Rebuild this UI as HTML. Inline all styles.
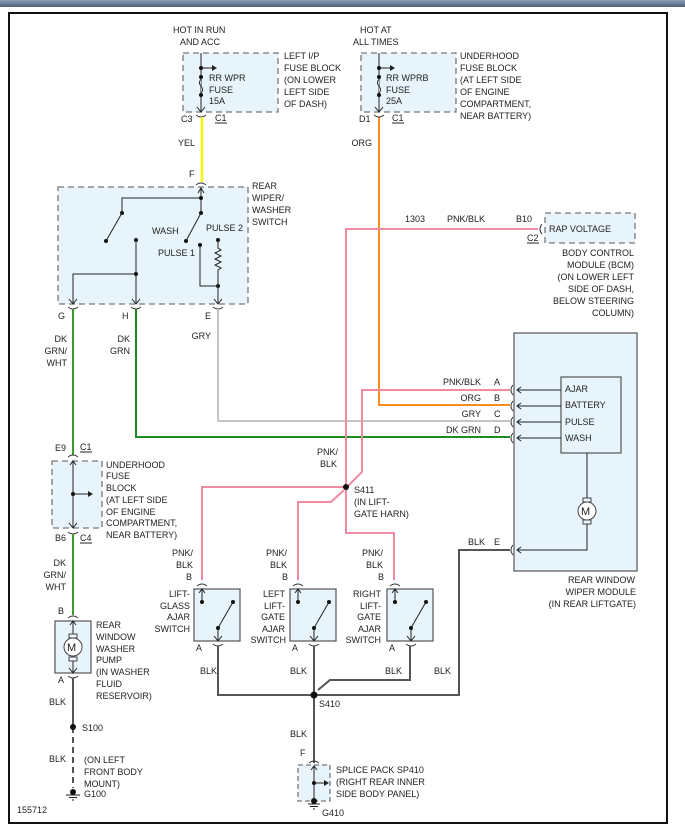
<!DOCTYPE html>
<html><head><meta charset="utf-8"><style>
body{margin:0;background:#fff;width:685px;height:837px;overflow:hidden}
svg{display:block}
text{font-family:"Liberation Sans",sans-serif;font-size:9px;fill:#222}
.bx{fill:#e8f4fb;stroke:#777;stroke-width:1.3;stroke-dasharray:6,4}
.sb{fill:#e8f4fb;stroke:#555;stroke-width:1.2}
.k{stroke:#222;stroke-width:1;fill:none}
.c{stroke:#333;stroke-width:1;fill:none}
.r{text-anchor:end}
</style></head><body>
<svg width="685" height="837" viewBox="0 0 685 837">
<defs><linearGradient id="g" x1="0" y1="0" x2="0" y2="1"><stop offset="0" stop-color="#8aa0b6"/><stop offset="1" stop-color="#4d6279"/></linearGradient></defs>
<rect x="0" y="0" width="685" height="7" fill="url(#g)"/>
<rect x="9" y="13" width="658" height="810" fill="#fff" stroke="#111" stroke-width="2"/>

<!-- Fuse block 1 -->
<text x="173" y="33">HOT IN RUN</text><text x="180" y="45">AND ACC</text>
<rect class="bx" x="183" y="53" width="95" height="59"/>
<line class="k" x1="201" y1="53" x2="201" y2="112"/>
<line class="k" x1="201" y1="68" x2="212" y2="68"/><path d="M212,65 L217,68 L212,71Z" fill="#222"/>
<circle cx="201" cy="68" r="2" fill="#111"/><circle cx="201" cy="77" r="2" fill="#111"/><circle cx="201" cy="95" r="2" fill="#111"/>
<path d="M201,79 q-3,4 0,7 q3,4 0,7" fill="#e8f4fb" stroke="#222"/>
<path class="k" d="M197,107 L201,112 L205,107"/>
<path class="c" d="M196,115 q5,4 10,0"/>
<text x="209" y="81">RR WPR</text><text x="209" y="93">FUSE</text><text x="209" y="104">15A</text>
<text x="284" y="59">LEFT I/P</text><text x="284" y="71">FUSE BLOCK</text><text x="284" y="83">(ON LOWER</text><text x="284" y="95">LEFT SIDE</text><text x="284" y="107">OF DASH)</text>
<text x="181" y="122">C3</text><text x="215" y="121">C1</text><line x1="215" y1="123" x2="227" y2="123" stroke="#222"/>
<line x1="202" y1="117" x2="202" y2="182" stroke="#f5f500" stroke-width="2.5"/>
<text x="178" y="146">YEL</text>
<text x="189" y="177">F</text>

<!-- Rear wiper/washer switch -->
<path class="c" d="M196,185 q5,-4 10,0"/>
<rect class="bx" x="58" y="187" width="190" height="117"/>
<text x="252" y="189">REAR</text><text x="252" y="201">WIPER/</text><text x="252" y="213">WASHER</text><text x="252" y="225">SWITCH</text>
<path class="k" d="M198,193 L201,188 L204,193 M201,188 L201,213 M201,198 L122,198 L122,213"/>
<circle cx="201" cy="198" r="2" fill="#111"/><circle cx="201" cy="213" r="2" fill="#111"/><circle cx="122" cy="213" r="2" fill="#111"/>
<line class="k" x1="122" y1="213" x2="106" y2="241"/><circle cx="106" cy="241" r="2" fill="#111"/>
<line class="k" x1="201" y1="213" x2="186" y2="241"/><circle cx="186" cy="241" r="2" fill="#111"/>
<text x="152" y="234">WASH</text><text x="206" y="231">PULSE 2</text><text x="158" y="256">PULSE 1</text>
<circle cx="136" cy="240" r="2" fill="#111"/>
<path class="k" d="M136,240 L136,304 M136,274 L73,274 L73,304"/><circle cx="136" cy="274" r="2" fill="#111"/>
<circle cx="200" cy="245" r="2" fill="#111"/><circle cx="218" cy="240" r="2" fill="#111"/><circle cx="218" cy="286" r="2" fill="#111"/>
<path class="k" d="M200,245 L200,286 L218,286 M218,240 L218,248 l3,2 l-6,3 l6,3 l-6,3 l6,3 l-6,3 l6,3 l-3,2 L218,304"/>
<path class="k" d="M69,299 L73,304 L77,299 M132,299 L136,304 L140,299 M214,299 L218,304 L222,299"/>
<path class="c" d="M68,307 q5,4 10,0 M131,307 q5,4 10,0 M213,307 q5,4 10,0"/>
<text x="58" y="319">G</text><text x="122" y="319">H</text><text x="205" y="319">E</text>

<!-- wires -->
<line x1="73" y1="309" x2="73" y2="455" stroke="#3a9a2a" stroke-width="2"/>
<polyline points="136,309 136,437 510,437" fill="none" stroke="#1f8a1f" stroke-width="2"/>
<polyline points="218,309 218,421 510,421" fill="none" stroke="#c4c4c4" stroke-width="2"/>
<polyline points="379,117 379,405 510,405" fill="none" stroke="#ff8a1e" stroke-width="2"/>
<polyline points="538,229 346,229 346,487" fill="none" stroke="#f08aa0" stroke-width="2"/>
<polyline points="510,390 362,390 362,472 348,486" fill="none" stroke="#f08aa0" stroke-width="2"/>
<polyline points="346,487 346,533 394,533 394,580" fill="none" stroke="#f08aa0" stroke-width="2"/>
<polyline points="346,487 202,487 202,580" fill="none" stroke="#f08aa0" stroke-width="2"/>
<polyline points="344,490 331,502 298,502 298,580" fill="none" stroke="#f08aa0" stroke-width="2"/>
<circle cx="346" cy="487" r="3" fill="#111"/>
<text x="354" y="493">S411</text><text x="354" y="505">(IN LIFT-</text><text x="354" y="517">GATE HARN)</text>
<text x="317" y="455">PNK/</text><text x="320" y="467">BLK</text>

<text x="67" y="342" class="r">DK</text><text x="67" y="354" class="r">GRN/</text><text x="67" y="366" class="r">WHT</text>
<text x="130" y="342" class="r">DK</text><text x="130" y="354" class="r">GRN</text>
<text x="211" y="339" class="r">GRY</text>
<text x="372" y="146" class="r">ORG</text>

<!-- fuse block 2 -->
<text x="360" y="33">HOT AT</text><text x="353" y="45">ALL TIMES</text>
<rect class="bx" x="361" y="53" width="95" height="59"/>
<line class="k" x1="379" y1="53" x2="379" y2="112"/>
<line class="k" x1="379" y1="68" x2="390" y2="68"/><path d="M390,65 L395,68 L390,71Z" fill="#222"/>
<circle cx="379" cy="68" r="2" fill="#111"/><circle cx="379" cy="77" r="2" fill="#111"/><circle cx="379" cy="95" r="2" fill="#111"/>
<path d="M379,79 q-3,4 0,7 q3,4 0,7" fill="#e8f4fb" stroke="#222"/>
<path class="k" d="M375,107 L379,112 L383,107"/>
<path class="c" d="M374,115 q5,4 10,0"/>
<text x="386" y="81">RR WPRB</text><text x="386" y="93">FUSE</text><text x="386" y="104">25A</text>
<text x="460" y="59">UNDERHOOD</text><text x="460" y="71">FUSE BLOCK</text><text x="460" y="83">(AT LEFT SIDE</text><text x="460" y="95">OF ENGINE</text><text x="460" y="107">COMPARTMENT,</text><text x="460" y="119">NEAR BATTERY)</text>
<text x="359" y="122">D1</text><text x="392" y="121">C1</text><line x1="392" y1="123" x2="404" y2="123" stroke="#222"/>

<!-- BCM -->
<text x="405" y="222">1303</text><text x="447" y="222">PNK/BLK</text><text x="516" y="222">B10</text>
<text x="527" y="241">C2</text><line x1="527" y1="243" x2="539" y2="243" stroke="#222"/>
<path class="c" d="M542,224 q-4,5 0,10"/>
<rect class="bx" x="545" y="213" width="90" height="30"/>
<text x="549" y="232">RAP VOLTAGE</text>
<text x="634" y="256" class="r">BODY CONTROL</text><text x="634" y="268" class="r">MODULE (BCM)</text><text x="634" y="280" class="r">(ON LOWER LEFT</text><text x="634" y="292" class="r">SIDE OF DASH,</text><text x="634" y="304" class="r">BELOW STEERING</text><text x="634" y="316" class="r">COLUMN)</text>

<!-- module -->
<rect class="sb" x="514" y="333" width="123" height="238"/>
<rect class="sb" x="561" y="377" width="60" height="76"/>
<text x="565" y="392">AJAR</text><text x="565" y="408">BATTERY</text><text x="565" y="425">PULSE</text><text x="565" y="441">WASH</text>
<g class="k">
<path d="M561,390 L517,390 M521,387 L517,390 L521,393"/>
<path d="M561,406 L517,406 M521,403 L517,406 L521,409"/>
<path d="M561,422 L517,422 M521,419 L517,422 L521,425"/>
<path d="M561,438 L517,438 M521,435 L517,438 L521,441"/>
<path d="M587,453 L587,499 M587,523 L587,550 L517,550 M521,547 L517,550 L521,553"/>
</g>
<g class="c"><path d="M513,385 q-4,5 0,10 M513,401 q-4,5 0,10 M513,417 q-4,5 0,10 M513,433 q-4,5 0,10 M513,545 q-4,5 0,10"/></g>
<rect x="583" y="498" width="8" height="4" fill="#e8f4fb" stroke="#444"/><rect x="583" y="520" width="8" height="4" fill="#e8f4fb" stroke="#444"/>
<circle cx="587" cy="511" r="9" fill="#fff" stroke="#444"/><text x="581" y="515" style="font-size:11px">M</text>
<text x="481" y="385" class="r">PNK/BLK</text><text x="494" y="385">A</text>
<text x="481" y="401" class="r">ORG</text><text x="494" y="401">B</text>
<text x="481" y="417" class="r">GRY</text><text x="494" y="417">C</text>
<text x="481" y="433" class="r">DK GRN</text><text x="494" y="433">D</text>
<text x="485" y="545" class="r">BLK</text><text x="494" y="545">E</text>
<text x="635" y="583" class="r">REAR WINDOW</text><text x="636" y="595" class="r">WIPER MODULE</text><text x="636" y="607" class="r">(IN REAR LIFTGATE)</text>

<!-- underhood fuse block left -->
<text x="55" y="451">E9</text><text x="80" y="450">C1</text><line x1="80" y1="452" x2="92" y2="452" stroke="#222"/>
<path class="c" d="M68,457 q5,-4 10,0"/>
<rect class="bx" x="52" y="461" width="50" height="67"/>
<path class="k" d="M70,465 L73,461 L76,465 M73,461 L73,528 M69,523 L73,528 L77,523 M73,494 L88,494"/><path d="M88,491 L93,494 L88,497Z" fill="#222"/>
<circle cx="73" cy="494" r="2" fill="#111"/>
<path class="c" d="M68,532 q5,4 10,0"/>
<text x="55" y="541">B6</text><text x="80" y="541">C4</text><line x1="80" y1="543" x2="92" y2="543" stroke="#222"/>
<text x="106" y="468">UNDERHOOD</text><text x="106" y="479">FUSE</text><text x="106" y="491">BLOCK</text><text x="106" y="503">(AT LEFT SIDE</text><text x="106" y="515">OF ENGINE</text><text x="106" y="526">COMPARTMENT,</text><text x="106" y="538">NEAR BATTERY)</text>
<line x1="73" y1="534" x2="73" y2="615" stroke="#3a9a2a" stroke-width="2"/>
<text x="66" y="566" class="r">DK</text><text x="66" y="578" class="r">GRN/</text><text x="66" y="590" class="r">WHT</text>

<!-- pump -->
<text x="58" y="614">B</text>
<path class="c" d="M68,618 q5,-4 10,0"/>
<rect class="sb" x="55" y="621" width="36" height="52"/>
<path class="k" d="M70,625 L73,621 L76,625 M73,621 L73,673 M69,668 L73,673 L77,668"/>
<rect x="69" y="634" width="8" height="4" fill="#e8f4fb" stroke="#444"/><rect x="69" y="657" width="8" height="4" fill="#e8f4fb" stroke="#444"/>
<circle cx="73" cy="647" r="9" fill="#fff" stroke="#444"/><text x="67" y="651" style="font-size:11px">M</text>
<text x="96" y="628">REAR</text><text x="96" y="640">WINDOW</text><text x="96" y="652">WASHER</text><text x="96" y="663">PUMP</text><text x="96" y="675">(IN WASHER</text><text x="96" y="687">FLUID</text><text x="96" y="699">RESERVOIR)</text>
<text x="58" y="683">A</text>
<path class="c" d="M68,676 q5,4 10,0"/>
<line x1="73" y1="678" x2="73" y2="727" stroke="#555" stroke-width="2"/>
<line x1="73" y1="727" x2="73" y2="788" stroke="#555" stroke-width="2" stroke-dasharray="6,4"/>
<circle cx="73" cy="727" r="3" fill="#111"/><text x="82" y="731">S100</text>
<text x="49" y="705">BLK</text><text x="49" y="762">BLK</text>
<text x="84" y="763">(ON LEFT</text><text x="84" y="775">FRONT BODY</text><text x="84" y="787">MOUNT)</text>
<circle cx="73" cy="792" r="3" fill="#111"/><path d="M66,795 H80 M69,797.5 H77 M72,800 H74" stroke="#222"/>
<text x="84" y="797">G100</text>
<text x="17" y="813">155712</text>

<!-- lift switches -->
<text x="287" y="556" class="r">PNK/</text><text x="287" y="568" class="r">BLK</text>
<text x="193" y="556" class="r">PNK/</text><text x="193" y="568" class="r">BLK</text>
<text x="383" y="556" class="r">PNK/</text><text x="383" y="568" class="r">BLK</text>
<text x="186" y="580">B</text><text x="282" y="580">B</text><text x="378" y="580">B</text>
<g id="sw">
<path class="c" d="M197,586 q5,-4 10,0"/>
<rect class="sb" x="194" y="589" width="46" height="52"/>
<path class="k" d="M199,593 L202,589 L205,593 M202,589 L202,602 M218,628 L233,602 M218,628 L218,641 M214,636 L218,641 L222,636"/>
<circle cx="202" cy="602" r="2" fill="#111"/><circle cx="233" cy="602" r="2" fill="#111"/><circle cx="218" cy="628" r="2" fill="#111"/>
<path class="c" d="M213,644 q5,4 10,0"/>
<text x="202" y="651" class="r">A</text>
</g>
<use href="#sw" x="96"/><use href="#sw" x="193"/>
<text x="190" y="597" class="r">LIFT-</text><text x="190" y="609" class="r">GLASS</text><text x="190" y="620" class="r">AJAR</text><text x="190" y="632" class="r">SWITCH</text>
<text x="285" y="597" class="r">LEFT</text><text x="285" y="609" class="r">LIFT-</text><text x="285" y="620" class="r">GATE</text><text x="285" y="632" class="r">AJAR</text><text x="286" y="643" class="r">SWITCH</text>
<text x="381" y="597" class="r">RIGHT</text><text x="381" y="609" class="r">LIFT-</text><text x="381" y="620" class="r">GATE</text><text x="381" y="632" class="r">AJAR</text><text x="381" y="643" class="r">SWITCH</text>

<!-- BLK ground wires -->
<g fill="none" stroke="#555" stroke-width="2">
<polyline points="218,646 218,695 459,695 459,550 510,550"/>
<line x1="314" y1="646" x2="314" y2="763"/>
<polyline points="410,646 410,680 330,680 318,690"/>
</g>
<circle cx="314" cy="695" r="3.5" fill="#111"/>
<text x="319" y="707">S410</text>
<text x="200" y="674">BLK</text><text x="290" y="674">BLK</text><text x="385" y="674">BLK</text><text x="434" y="674">BLK</text><text x="290" y="737">BLK</text>
<text x="300" y="756">F</text>
<path class="c" d="M309,763 q5,-4 10,0"/>
<rect class="bx" x="298" y="765" width="32" height="36" style="stroke-dasharray:5,3"/>
<path class="k" d="M311,770 L314,766 L317,770 M314,766 L314,801 M314,783 L325,783"/><path d="M324,780 L329,783 L324,786Z" fill="#222"/>
<circle cx="314" cy="783" r="2" fill="#111"/><circle cx="314" cy="801" r="3" fill="#111"/>
<path d="M308,804 H320 M310,806.5 H318 M313,809 H315" stroke="#222"/>
<text x="336" y="773">SPLICE PACK SP410</text><text x="336" y="785">(RIGHT REAR INNER</text><text x="336" y="797">SIDE BODY PANEL)</text>
<text x="322" y="816">G410</text>
</svg>
</body></html>
